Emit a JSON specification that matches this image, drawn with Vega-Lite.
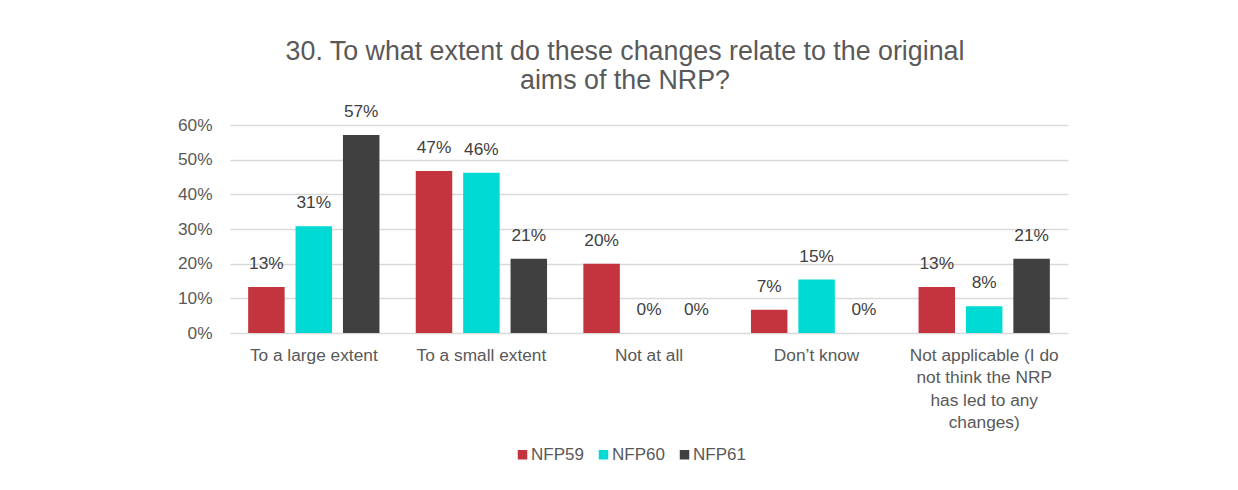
{
  "$schema": "https://vega.github.io/schema/vega-lite/v6.json",
  "width": 838,
  "height": 208,
  "autosize": {"type": "none"},
  "padding": {"left": 230, "top": 125, "right": 170, "bottom": 157},
  "background": "white",
  "title": {
    "text": ["30. To what extent do these changes relate to the original", "aims of the NRP?"],
    "anchor": "middle",
    "frame": "group",
    "dx": -24,
    "offset": 8,
    "fontSize": 26.8,
    "font": "Liberation Sans",
    "fontWeight": "normal",
    "color": "#595959",
    "lineHeight": 29
  },
  "config": {
    "font": "Liberation Sans",
    "view": {"stroke": null}
  },
  "data": {
    "values": [
      {"category": "To a large extent", "series": "NFP59", "value": 0.133},
      {"category": "To a large extent", "series": "NFP60", "value": 0.308},
      {"category": "To a large extent", "series": "NFP61", "value": 0.571},
      {"category": "To a small extent", "series": "NFP59", "value": 0.467},
      {"category": "To a small extent", "series": "NFP60", "value": 0.462},
      {"category": "To a small extent", "series": "NFP61", "value": 0.214},
      {"category": "Not at all", "series": "NFP59", "value": 0.2},
      {"category": "Not at all", "series": "NFP60", "value": 0},
      {"category": "Not at all", "series": "NFP61", "value": 0},
      {"category": "Don’t know", "series": "NFP59", "value": 0.067},
      {"category": "Don’t know", "series": "NFP60", "value": 0.154},
      {"category": "Don’t know", "series": "NFP61", "value": 0},
      {"category": "Not applicable (I do not think the NRP has led to any changes)", "series": "NFP59", "value": 0.133},
      {"category": "Not applicable (I do not think the NRP has led to any changes)", "series": "NFP60", "value": 0.077},
      {"category": "Not applicable (I do not think the NRP has led to any changes)", "series": "NFP61", "value": 0.214}
    ]
  },
  "encoding": {
    "x": {
      "field": "category",
      "type": "nominal",
      "sort": ["To a large extent", "To a small extent", "Not at all", "Don’t know", "Not applicable (I do not think the NRP has led to any changes)"],
      "scale": {"paddingInner": 0, "paddingOuter": 0},
      "axis": {
        "title": null,
        "labelAngle": 0,
        "domain": false,
        "ticks": false,
        "labelPadding": 13,
        "labelFontSize": 17.3,
        "labelColor": "#595959",
        "labelLineHeight": 22.5,
        "labelLimit": 300,
        "labelExpr": "datum.value == 'Not applicable (I do not think the NRP has led to any changes)' ? ['Not applicable (I do', 'not think the NRP', 'has led to any', 'changes)'] : datum.value"
      }
    },
    "xOffset": {
      "field": "series",
      "type": "nominal",
      "scale": {"paddingInner": 0.23, "paddingOuter": 0.383}
    },
    "y": {
      "field": "value",
      "type": "quantitative",
      "scale": {"domain": [0, 0.6], "nice": false},
      "axis": {
        "title": null,
        "format": ".0%",
        "values": [0, 0.1, 0.2, 0.3, 0.4, 0.5, 0.6],
        "domain": false,
        "ticks": false,
        "labelPadding": 18,
        "labelFontSize": 17.3,
        "labelColor": "#595959",
        "gridColor": "#D9D9D9",
        "gridWidth": 1.5
      }
    }
  },
  "layer": [
    {
      "mark": {"type": "bar"},
      "encoding": {
        "color": {
          "field": "series",
          "type": "nominal",
          "scale": {"domain": ["NFP59", "NFP60", "NFP61"], "range": ["#C3343F", "#00DAD5", "#404040"]},
          "legend": {
            "orient": "none",
            "legendX": 284,
            "legendY": 321,
            "padding": 0,
            "direction": "horizontal",
            "title": null,
            "symbolType": "square",
            "symbolSize": 90,
            "symbolStrokeWidth": 0,
            "labelFontSize": 17,
            "labelColor": "#595959",
            "labelOffset": 0,
            "columnPadding": 11
          }
        }
      }
    },
    {
      "mark": {"type": "text", "baseline": "alphabetic", "dy": -18, "fontSize": 17.3, "color": "#404040"},
      "encoding": {
        "text": {"field": "value", "type": "quantitative", "format": ".0%"}
      }
    }
  ]
}
